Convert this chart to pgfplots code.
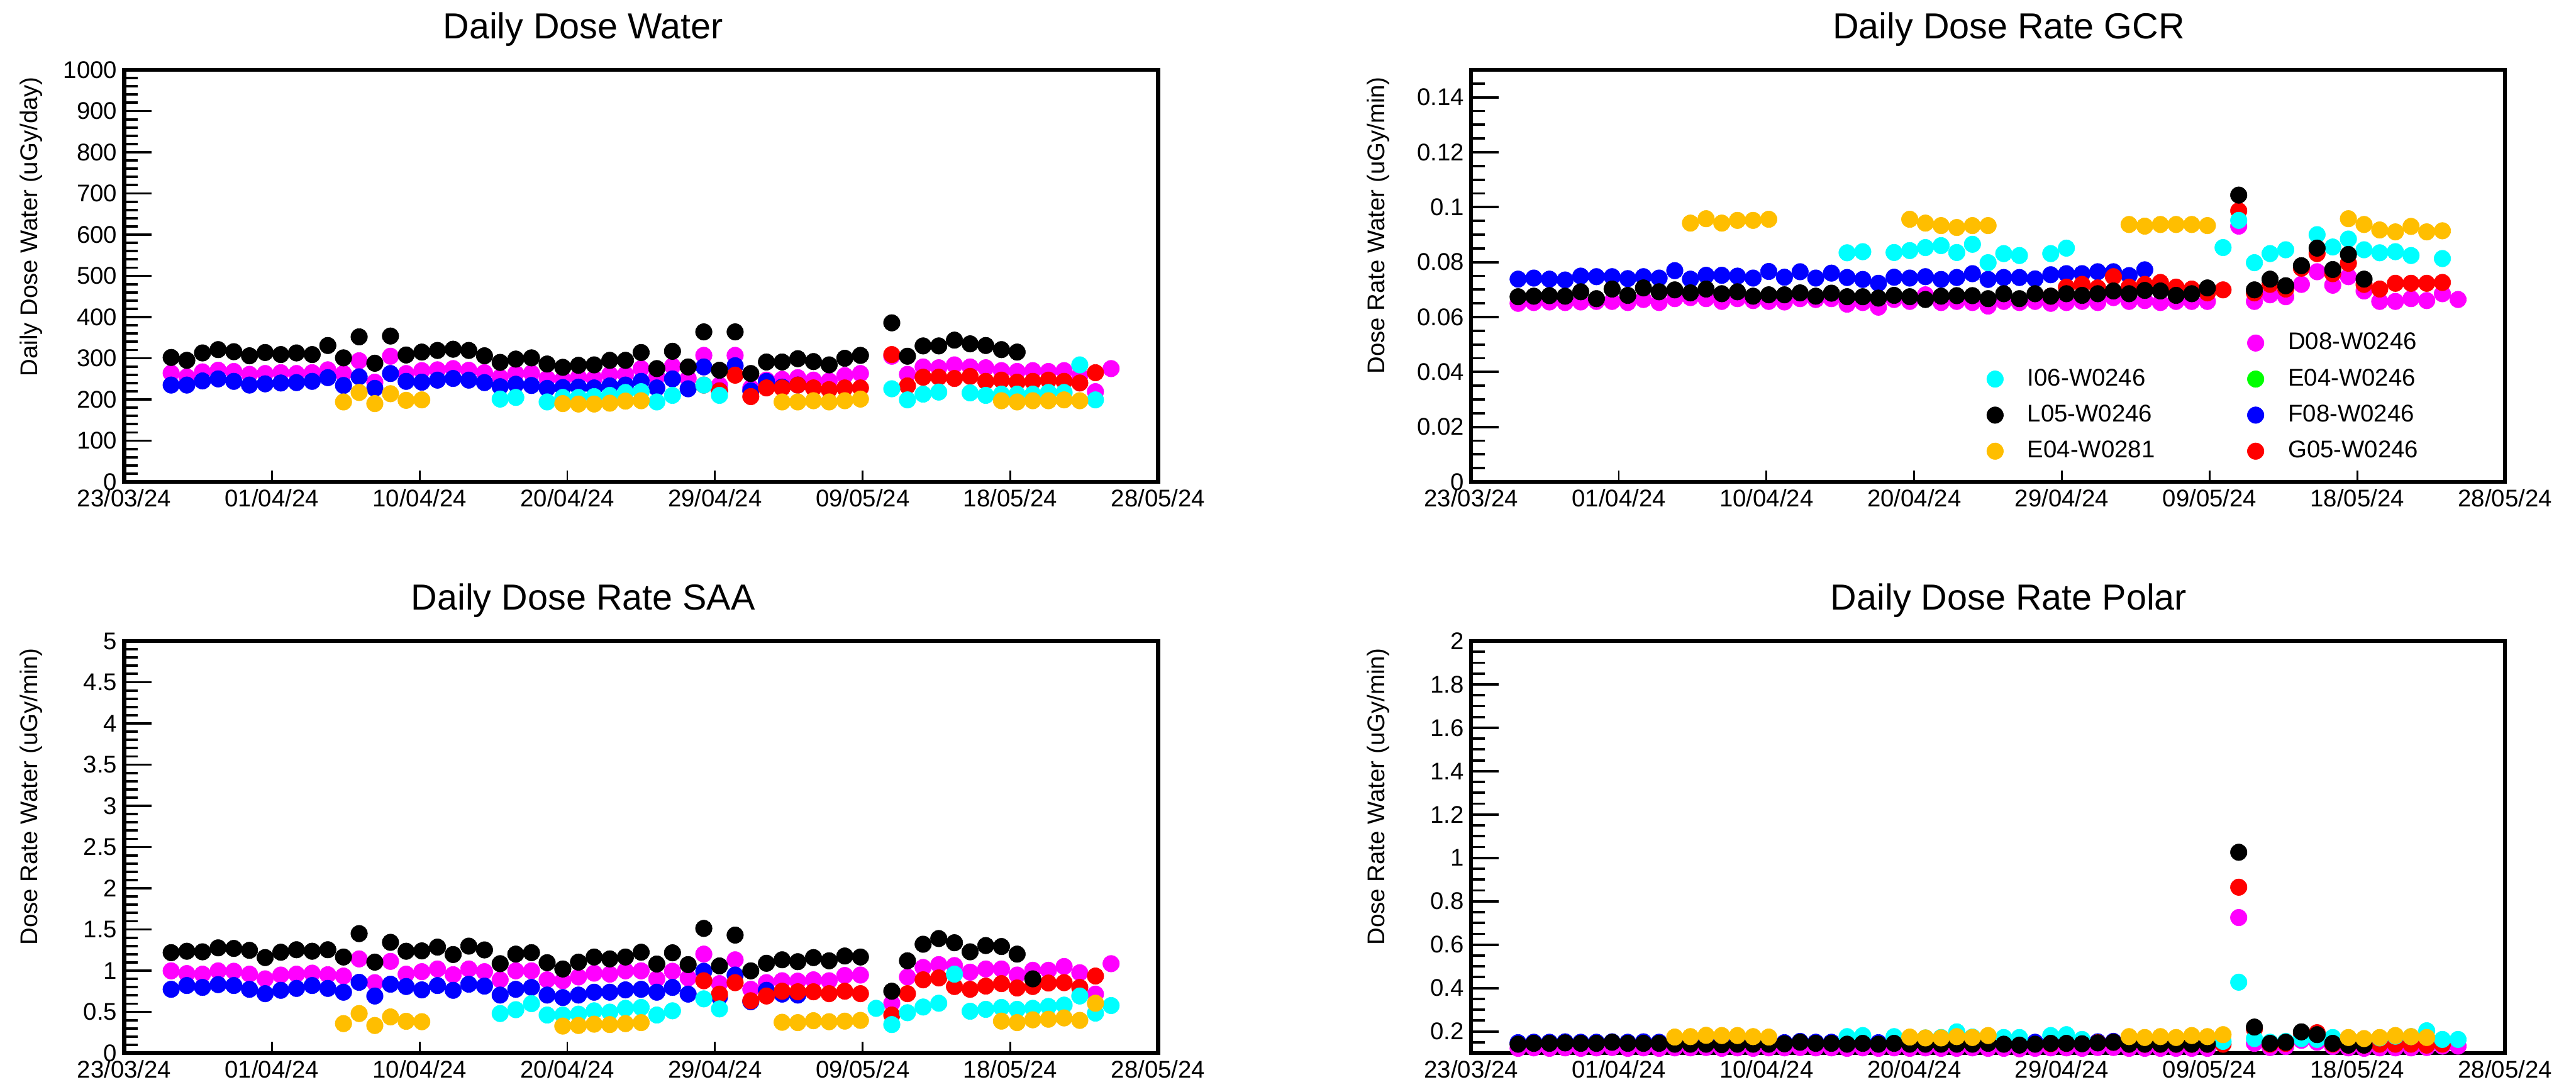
\documentclass[border=0pt]{standalone}
\usepackage{fontspec}
\setmainfont{Liberation Sans}
\usepackage{pgfplots}
\usepackage{pgfplotstable}
\pgfplotsset{compat=1.18}

\definecolor{cI}{RGB}{0,255,255}
\definecolor{cL}{RGB}{0,0,0}
\definecolor{cEo}{RGB}{255,190,0}
\definecolor{cD}{RGB}{255,0,255}
\definecolor{cEg}{RGB}{0,255,0}
\definecolor{cF}{RGB}{0,0,255}
\definecolor{cG}{RGB}{255,0,0}

% columns: day since 23/03/24, I06, L05, E04-W0281, D08, F08, G05
\pgfplotstableread{
d  cyan black orange mag blue red
3  nan 302 nan 264 235 nan
4  nan 295 nan 255 235 nan
5  nan 313 nan 267 245 nan
6  nan 321 nan 271 250 nan
7  nan 316 nan 268 244 nan
8  nan 306 nan 261 235 nan
9  nan 314 nan 263 238 nan
10 nan 309 nan 265 240 nan
11 nan 313 nan 263 241 nan
12 nan 309 nan 265 244 nan
13 nan 331 nan 272 253 nan
14 nan 301 194 263 234 nan
15 nan 352 217 294 255 nan
16 nan 288 190 242 227 nan
17 nan 354 214 305 263 nan
18 nan 308 198 263 244 nan
19 nan 315 199 270 242 nan
20 nan 319 nan 272 247 nan
21 nan 322 nan 275 251 nan
22 nan 319 nan 271 247 nan
23 nan 306 nan 265 241 nan
24 201 290 nan 254 231 nan
25 205 298 nan 263 237 nan
26 nan 301 nan 264 234 nan
27 194 286 nan 251 227 nan
28 205 278 190 249 229 nan
29 205 283 189 254 230 nan
30 207 284 189 251 228 nan
31 210 295 191 261 233 nan
32 217 295 196 261 235 nan
33 219 314 197 275 244 nan
34 194 275 nan 255 228 nan
35 210 317 nan 281 250 nan
36 nan 279 nan 251 226 nan
37 235 364 nan 307 279 235
38 210 271 nan 235 221 221
39 nan 364 nan 307 282 259
40 nan 263 nan 228 221 207
41 nan 291 nan 247 244 228
42 nan 291 194 249 230 228
43 nan 299 194 253 235 235
44 nan 292 197 247 nan 228
45 nan 284 194 245 nan 224
46 nan 300 197 258 nan 228
47 nan 307 201 263 nan 228
49 226 386 nan 305 nan 309
50 199 305 nan 261 nan 233
51 213 330 nan 279 nan 254
52 218 330 nan 277 nan 254
53 nan 344 nan 284 nan 251
54 216 335 nan 279 nan 256
55 210 331 nan 277 nan 244
56 213 321 197 270 nan 247
57 213 315 194 268 nan 242
58 213 nan 197 270 nan 244
59 217 nan 197 268 nan 247
60 217 nan 199 270 nan 244
61 284 nan 197 258 nan 240
62 199 nan nan 219 nan 265
63 nan nan nan 275 nan nan
}\water

\pgfplotstableread{
d  cyan black orange mag blue red
3  nan .0674 nan .0650 .0738 nan
4  nan .0676 nan .0653 .0742 nan
5  nan .0678 nan .0655 .0738 nan
6  nan .0676 nan .0653 .0735 nan
7  nan .0692 nan .0655 .0749 nan
8  nan .0667 nan .0657 .0747 nan
9  nan .0702 nan .0657 .0747 nan
10 nan .0679 nan .0653 .0740 nan
11 nan .0706 nan .0664 .0747 nan
12 nan .0692 nan .0653 .0742 nan
13 nan .0699 nan .0667 .0769 nan
14 nan .0688 .0942 .0671 .0738 nan
15 nan .0702 .0958 .0667 .0752 nan
16 nan .0685 .0942 .0657 .0752 nan
17 nan .0692 .0952 .0667 .0749 nan
18 nan .0676 .0952 .0660 .0742 nan
19 nan .0681 .0956 .0657 .0766 nan
20 nan .0681 nan .0655 .0745 nan
21 nan .0688 nan .0667 .0765 nan
22 nan .0676 nan .0664 .0742 nan
23 nan .0687 nan .0667 .0760 nan
24 .0834 .0674 nan .0647 .0744 nan
25 .0838 .0674 nan .0653 .0737 nan
26 nan .0669 nan .0636 .0723 nan
27 .0835 .0679 nan .0664 .0745 nan
28 .0842 .0674 .0956 .0657 .0742 nan
29 .0853 .0664 .0942 .0681 .0747 nan
30 .0860 .0676 .0933 .0653 .0737 nan
31 .0835 .0678 .0926 .0657 .0744 nan
32 .0865 .0678 .0933 .0653 .0758 nan
33 .0798 .0667 .0933 .0640 .0737 nan
34 .0831 .0685 nan .0657 .0744 nan
35 .0824 .0667 nan .0653 .0744 nan
36 nan .0685 nan .0657 .0739 nan
37 .0831 .0676 nan .0650 .0754 .0676
38 .0851 .0685 nan .0653 .0758 .0709
39 nan .0679 nan .0657 .0758 .0719
40 nan .0685 nan .0653 .0765 .0706
41 nan .0695 nan .0671 .0765 .0747
42 nan .0685 .0937 .0657 .0751 .0709
43 nan .0697 .0931 .0660 .0772 .0719
44 nan .0695 .0937 .0653 nan .0726
45 nan .0679 .0937 .0657 nan .0709
46 nan .0685 .0937 .0657 nan .0702
47 nan .0706 .0933 .0657 nan .0688
48 .0853 nan nan nan nan .0699
49 .0952 .1044 nan .0931 nan .0987
50 .0798 .0699 nan .0657 nan .0688
51 .0831 .0738 nan .0681 nan .0719
52 .0845 .0714 nan .0674 nan .0702
53 nan .0787 nan .0719 nan .0778
54 .0900 .0851 nan .0765 nan .0831
55 .0855 .0773 nan .0716 nan .0758
56 .0884 .0828 .0958 .0747 nan .0796
57 .0845 .0738 .0937 .0695 nan .0719
58 .0834 nan .0917 .0657 nan .0702
59 .0838 nan .0910 .0657 nan .0723
60 .0824 nan .0930 .0667 nan .0723
61 nan nan .0910 .0660 nan .0723
62 .0813 nan .0914 .0685 nan .0726
63 nan nan nan .0664 nan nan
}\gcr

\pgfplotstableread{
d  cyan black orange mag blue red
3  nan 1.219 nan .998 .774 nan
4  nan 1.236 nan .965 .820 nan
5  nan 1.229 nan .958 .797 nan
6  nan 1.277 nan .998 .831 nan
7  nan 1.270 nan .993 .820 nan
8  nan 1.247 nan .958 .774 nan
9  nan 1.159 nan .901 .721 nan
10 nan 1.224 nan .947 .762 nan
11 nan 1.254 nan .958 .785 nan
12 nan 1.236 nan .970 .820 nan
13 nan 1.254 nan .951 .785 nan
14 nan 1.166 .358 .935 .739 nan
15 nan 1.450 .480 1.143 .859 nan
16 nan 1.104 .335 .855 .693 nan
17 nan 1.344 .439 1.113 .836 nan
18 nan 1.236 .386 .958 .808 nan
19 nan 1.240 .381 .988 .767 nan
20 nan 1.286 nan 1.021 .820 nan
21 nan 1.196 nan .951 .762 nan
22 nan 1.298 nan 1.021 .836 nan
23 nan 1.252 nan .988 .813 nan
24 .480 1.085 nan .889 .704 nan
25 .527 1.201 nan .998 .774 nan
26 .600 1.219 nan .998 .797 nan
27 .462 1.097 nan .889 .704 nan
28 .462 1.021 .328 .878 .674 nan
29 .473 1.104 .335 .924 .704 nan
30 .513 1.166 .351 .970 .739 nan
31 .497 1.143 .346 .958 .739 nan
32 .543 1.166 .358 .998 .767 nan
33 .554 1.224 .370 .998 .774 nan
34 .462 1.081 nan .901 .739 nan
35 .513 1.217 nan .993 .797 nan
36 nan 1.074 nan .912 .716 nan
37 .658 1.513 nan 1.201 .993 .878
38 .536 1.058 nan .843 .680 .716
39 nan 1.432 nan 1.132 .947 .855
40 nan .998 nan .774 .624 .635
41 nan 1.090 nan .855 .762 .693
42 nan 1.132 .374 .878 .716 .751
43 nan 1.109 .370 .873 .704 .744
44 nan 1.159 .393 .889 nan .744
45 nan 1.120 .381 .878 nan .721
46 nan 1.178 .388 .942 nan .751
47 nan 1.166 .397 .947 nan .721
48 .543 nan nan nan nan nan
49 .346 .751 nan .605 nan .462
50 .490 1.120 nan .924 nan .721
51 .559 1.321 nan 1.039 nan .889
52 .605 1.390 nan 1.074 nan .912
53 .958 1.339 nan 1.062 nan .808
54 .508 1.229 nan .982 nan .774
55 .531 1.305 nan 1.021 nan .813
56 .554 1.293 .388 1.021 nan .843
57 .531 1.201 .370 .947 nan .790
58 .543 .901 .404 1.005 nan .808
59 .566 nan .411 1.005 nan .850
60 .582 nan .427 1.051 nan .855
61 .693 nan .397 .975 nan .797
62 .485 nan .605 .716 nan .935
63 .577 nan nan 1.085 nan nan
}\saa

\pgfplotstableread{
d  cyan black orange mag blue red
3  nan .141 nan .122 .148 nan
4  nan .145 nan .124 .150 nan
5  nan .145 nan .122 .150 nan
6  nan .147 nan .124 .152 nan
7  nan .145 nan .122 .150 nan
8  nan .145 nan .124 .150 nan
9  nan .150 nan .126 .152 nan
10 nan .145 nan .122 .150 nan
11 nan .145 nan .124 .152 nan
12 nan .145 nan .122 .150 nan
13 nan .141 .174 .124 .148 nan
14 nan .141 .176 .124 .148 nan
15 nan .141 .182 .126 .150 nan
16 nan .139 .181 .122 .146 nan
17 nan .141 .181 .124 .148 nan
18 nan .141 .176 .122 .148 nan
19 nan .141 .174 .124 .148 nan
20 nan .143 nan .124 .148 nan
21 nan .150 nan .126 .154 nan
22 nan .145 nan .124 .150 nan
23 nan .145 nan .124 .150 nan
24 .176 .141 nan .122 .148 nan
25 .181 .145 nan .124 .150 nan
26 nan .141 nan .122 .148 nan
27 .176 .145 nan .124 .150 nan
28 .170 .141 .174 .122 .148 nan
29 .170 .141 .170 .124 .148 nan
30 .172 .141 .170 .122 .148 nan
31 .198 .141 .176 .122 .148 nan
32 .174 .141 .172 .124 .148 nan
33 .172 .145 .181 .122 .150 nan
34 .172 .141 nan .122 .148 nan
35 .172 .137 nan .120 .146 nan
36 nan .141 nan .122 .150 nan
37 .181 .145 nan .124 .150 .143
38 .185 .145 nan .124 .150 .145
39 .163 .143 nan .122 .148 .145
40 nan .147 nan .126 .152 .148
41 nan .150 nan .126 .154 .150
42 nan .141 .176 .122 .148 .141
43 nan .141 .172 .122 .148 .141
44 nan .141 .176 .122 nan .141
45 nan .141 .172 .122 nan .141
46 nan .141 .181 .122 nan .141
47 nan .141 .176 .122 nan .141
48 .154 nan .185 nan nan .141
49 .427 1.026 nan .725 nan .865
50 .167 .220 nan .145 nan .211
51 .150 .145 nan .126 nan .141
52 .154 .150 nan .130 nan .145
53 .167 .198 nan .159 nan .190
54 .163 .185 nan .150 nan .194
55 .172 .145 nan .130 nan .141
56 .170 .137 .172 .124 nan .137
57 .165 .137 .167 .122 nan .137
58 .170 nan .172 .124 nan .141
59 .178 nan .181 .124 nan .141
60 .176 nan .176 .124 nan .141
61 .203 nan .172 .126 nan .137
62 .163 nan nan .132 nan .141
63 .163 nan nan .132 nan nan
}\polar

\pgfplotsset{
  dosepanel/.style={
    scale only axis, width=18.07cm, height=7.2cm,
    xmin=0, xmax=66,
    xtick={0,9.42857,18.85714,28.28571,37.71429,47.14286,56.57143,66},
    xticklabels={23/03/24,01/04/24,10/04/24,20/04/24,29/04/24,09/05/24,18/05/24,28/05/24},
    tick pos=left, tick align=inside,
    axis line style={line width=2pt},
    major tick length=0.48cm, minor tick length=0.24cm,
    xtick style={/pgfplots/major tick length=0.2cm, line width=0.9pt, black},
    ytick style={line width=1.2pt, black},
    tick label style={font=\fontsize{12}{14}\selectfont},
    /pgf/number format/assume math mode=true,
    scaled y ticks=false,
    ylabel style={at={(rel axis cs:-0.0897,1)}, anchor=east, font=\fontsize{12}{14}\selectfont},
    title style={anchor=center, yshift=0.5cm, font=\fontsize{18}{21}\selectfont},
  },
  lefttitle/.style={title style={at={(rel axis cs:0.444,1)}}},
  righttitle/.style={title style={at={(rel axis cs:0.52,1)}}},
  ser/.style={only marks, mark=*, mark size=0.145cm, color=#1, mark options={line width=0.2pt}},
}

\newcommand{\allseries}[1]{%
  \addplot[ser=cD, forget plot] table[x=d, y=mag] {#1};
  \addplot[ser=cF, forget plot] table[x=d, y=blue] {#1};
  \addplot[ser=cG, forget plot] table[x=d, y=red] {#1};
  \addplot[ser=cI, forget plot] table[x=d, y=cyan] {#1};
  \addplot[ser=cL, forget plot] table[x=d, y=black] {#1};
  \addplot[ser=cEo, forget plot] table[x=d, y=orange] {#1};
}

\begin{document}
\begin{tikzpicture}
\path[use as bounding box] (0,0) rectangle (45.02cm,18.90cm);

% Daily dose
\begin{axis}[dosepanel, lefttitle, at={(2.17cm,10.48cm)}, anchor=south west,
  ymin=0, ymax=1000,
  ytick={0,100,200,300,400,500,600,700,800,900,1000},
  yticklabels={0,100,200,300,400,500,600,700,800,900,1000},
  minor ytick={0,20,...,1000},
  ylabel={Daily Dose Water (uGy/day)},
  title={Daily Dose Water}]
\allseries{\water}
\end{axis}

% GCR
\begin{axis}[dosepanel, righttitle, at={(25.71cm,10.48cm)}, anchor=south west,
  ymin=0, ymax=0.15,
  ytick={0,0.02,0.04,0.06,0.08,0.1,0.12,0.14},
  yticklabels={0,0.02,0.04,0.06,0.08,0.1,0.12,0.14},
  minor ytick={0,0.005,...,0.15},
  ylabel={Dose Rate Water (uGy/min)},
  title={Daily Dose Rate GCR},
  legend columns=2,
  legend cell align=left,
  legend image code/.code={\path (-0.15cm,0cm) (0.56cm,0cm); \draw[#1] plot coordinates {(0cm,0cm)};},
  legend style={draw=none, fill=none, inner sep=0pt, column sep=0pt, row sep=0.20cm,
    at={(rel axis cs:0.506,0.338)}, anchor=north west, xshift=-0.15cm, yshift=0.215cm,
    nodes={inner sep=0pt, text width=3.83cm, text height=0.33cm, text depth=0.1cm,
      font=\fontsize{12}{14}\selectfont}}]
\allseries{\gcr}
\addlegendimage{empty legend}\addlegendentry{}
\addlegendimage{ser=cD}\addlegendentry{D08-W0246}
\addlegendimage{ser=cI}\addlegendentry{I06-W0246}
\addlegendimage{ser=cEg}\addlegendentry{E04-W0246}
\addlegendimage{ser=cL}\addlegendentry{L05-W0246}
\addlegendimage{ser=cF}\addlegendentry{F08-W0246}
\addlegendimage{ser=cEo}\addlegendentry{E04-W0281}
\addlegendimage{ser=cG}\addlegendentry{G05-W0246}
\end{axis}

% SAA
\begin{axis}[dosepanel, lefttitle, at={(2.17cm,0.50cm)}, anchor=south west,
  ymin=0, ymax=5,
  ytick={0,0.5,1,1.5,2,2.5,3,3.5,4,4.5,5},
  yticklabels={0,0.5,1,1.5,2,2.5,3,3.5,4,4.5,5},
  minor ytick={0,0.1,...,5},
  ylabel={Dose Rate Water (uGy/min)},
  title={Daily Dose Rate SAA}]
\allseries{\saa}
\end{axis}

% Polar
\begin{axis}[dosepanel, righttitle, at={(25.71cm,0.50cm)}, anchor=south west,
  ymin=0.1, ymax=2,
  ytick={0.2,0.4,0.6,0.8,1,1.2,1.4,1.6,1.8,2},
  yticklabels={0.2,0.4,0.6,0.8,1,1.2,1.4,1.6,1.8,2},
  minor ytick={0.1,0.15,...,2},
  ylabel={Dose Rate Water (uGy/min)},
  title={Daily Dose Rate Polar}]
\allseries{\polar}
\end{axis}
\end{tikzpicture}
\end{document}
